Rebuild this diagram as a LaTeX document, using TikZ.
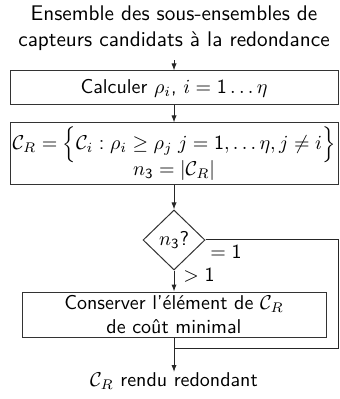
\documentclass[tikz,border=0pt]{standalone}
\usetikzlibrary{shapes.geometric,arrows.meta}
\DeclareSymbolFont{operators}{OT1}{cmss}{m}{n}
\SetSymbolFont{operators}{bold}{OT1}{cmss}{bx}{n}
\begin{document}
\begin{tikzpicture}[x=0.5pt,y=-0.5pt,
  font=\sffamily,
  every node/.style={line width=0.5pt},
  procbox/.style={draw=black!80, rectangle, inner sep=0pt, align=center},
  decision/.style={draw=black!80, diamond, inner sep=0pt, minimum width=31pt, minimum height=30pt},
  arr/.style={-{Latex[length=3.5pt,width=2.6pt]}, line width=0.5pt, draw=black!85},
  ln/.style={line width=0.5pt, draw=black!85}]
\useasboundingbox (0,0) rectangle (339,399);
\node[align=center, inner sep=0pt, font=\sffamily\fontsize{10.6pt}{13.2pt}\selectfont] (title) at (174,28) {Ensemble des sous-ensembles de\\capteurs candidats \`a la redondance};
\node[procbox, minimum width=164pt, minimum height=17pt] (b1) at (174,88) {Calculer $\rho_i$, $i=1\ldots\eta$};
\node[procbox, minimum width=164pt, minimum height=31pt] (b2) at (174,154) {$\mathcal{C}_R=\Big\{\mathcal{C}_i:\rho_i\geq\rho_j\;j=1,\ldots\eta,j\neq i\Big\}$\\[-2pt]$n_3=|\mathcal{C}_R|$};
\node[decision] (d) at (174,240) {$n_3?$};
\node[procbox, minimum width=152pt, minimum height=22.5pt] (b3) at (174,314.5) {Conserver l'\'el\'ement de $\mathcal{C}_R$\\de co\^ut minimal};
\node[inner sep=0pt, anchor=north] (end) at (174,372) {$\mathcal{C}_R$ rendu redondant};
\node[inner sep=0pt] (eq) at (226,252) {$=1$};
\node[inner sep=0pt] (gt) at (199,275) {$>1$};
\coordinate (c1) at (338,240);
\coordinate (c2) at (338,348);
\coordinate (c3) at (174,348);
\draw[arr] (title.south) ++(0,9) -- (b1.north);
\draw[arr] (b1) -- (b2);
\draw[arr] (b2) -- (d);
\draw[arr] (d) -- (b3);
\draw[ln] (d.east) -- (c1) -- (c2) -- (c3);
\draw[arr] (b3.south) -- (end.north);
\end{tikzpicture}
\end{document}
